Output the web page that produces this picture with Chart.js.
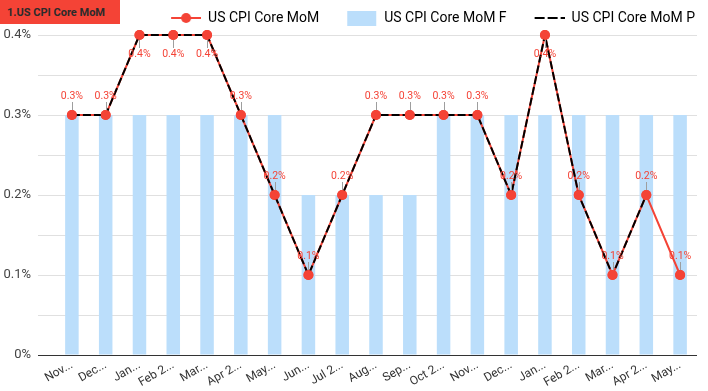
<!DOCTYPE html>
<html>
<head>
<meta charset="utf-8">
<script src="https://cdn.jsdelivr.net/npm/chart.js@4.4.1/dist/chart.umd.min.js"></script>
<style>
  html, body { margin: 0; padding: 0; background: #fff; }
  #wrap { position: relative; width: 708px; height: 391px; }
  #title {
    position: absolute; left: 0; top: 0; width: 120px; height: 24px;
    background: #f44336; color: #2b2b2b; box-sizing: border-box;
    padding-left: 7px; font: bold 11px Roboto, sans-serif; line-height: 25px;
  }
</style>
</head>
<body>
<div id="wrap">
  <canvas id="cpiChart" width="708" height="391"></canvas>
  <div id="title">1.US CPI Core MoM</div>
</div>
<script>
// data (values in %)
var months = ['Nov 2022', 'Dec 2022', 'Jan 2023', 'Feb 2023', 'Mar 2023', 'Apr 2023', 'May 2023', 'Jun 2023', 'Jul 2023', 'Aug 2023',
    'Sep 2023', 'Oct 2023', 'Nov 2023', 'Dec 2023', 'Jan 2024', 'Feb 2024', 'Mar 2024', 'Apr 2024', 'May 2024'];
var tickLabels = ['Nov...', 'Dec...', 'Jan...', 'Feb 2...', 'Mar...', 'Apr 2...', 'May...', 'Jun...', 'Jul 2...', 'Aug...',
    'Sep...', 'Oct 2...', 'Nov...', 'Dec...', 'Jan...', 'Feb 2...', 'Mar...', 'Apr 2...', 'May...'];
var coreMoM = [0.3, 0.3, 0.4, 0.4, 0.4, 0.3, 0.2, 0.1, 0.2, 0.3, 0.3, 0.3, 0.3, 0.2, 0.4, 0.2, 0.1, 0.2, 0.1];
var coreMoMF = [0.3, 0.3, 0.3, 0.3, 0.3, 0.3, 0.3, 0.2, 0.2, 0.2, 0.2, 0.3, 0.3, 0.3, 0.3, 0.3, 0.3, 0.3, 0.3];
var coreMoMP = [0.3, 0.3, 0.4, 0.4, 0.4, 0.3, 0.2, 0.1, 0.2, 0.3, 0.3, 0.3, 0.3, 0.2, 0.4, 0.2, 0.1, 0.2, null];

var red = '#f44336';
var blue = '#bbdefb';

Chart.defaults.font.family = 'Roboto';

// legend icons as small canvases (line with dot, box, dashed line)
var makeIcon = function (draw) {
    var c = document.createElement('canvas');
    c.width = 48;
    c.height = 16;
    draw(c.getContext('2d'));
    return c;
}
var legendIcons = [
    makeIcon(function (g) {
        g.strokeStyle = red; g.lineWidth = 2;
        g.beginPath(); g.moveTo(18, 8); g.lineTo(48, 8); g.stroke();
        g.fillStyle = red;
        g.beginPath(); g.arc(33, 8, 5, 0, Math.PI * 2); g.fill();
    }),
    makeIcon(function (g) {
        g.fillStyle = blue;
        g.fillRect(18, 1, 29, 15);
    }),
    makeIcon(function (g) {
        g.strokeStyle = '#000'; g.lineWidth = 2;
        g.setLineDash([10, 3]);
        g.beginPath(); g.moveTo(18, 8); g.lineTo(48, 8); g.stroke();
    })
];

// value labels with little leader lines, and red dots kept above the dashed line
var pointLabels = {
    id: 'pointLabels',
    afterLayout: function (chart) {
        chart.legend.right = chart.width - 3;
    },
    afterDatasetsDraw: function (chart) {
        var ctx = chart.ctx;
        var meta = chart.getDatasetMeta(0);
        var top = chart.chartArea.top;
        ctx.save();
        ctx.strokeStyle = '#9e9e9e';
        ctx.lineWidth = 1;
        meta.data.forEach(function (pt) {
            var dir = (pt.y - top < 20) ? 1 : -1;
            var x = Math.round(pt.x) + 0.5;
            ctx.beginPath();
            ctx.moveTo(x, pt.y + dir * 3);
            ctx.lineTo(x, pt.y + dir * 13);
            ctx.stroke();
        });
        meta.data.forEach(function (pt) { pt.draw(ctx, chart.chartArea); });
        ctx.font = '10.5px Roboto';
        ctx.fillStyle = red;
        ctx.textAlign = 'center';
        ctx.textBaseline = 'middle';
        meta.data.forEach(function (pt, i) {
            var dir = (pt.y - top < 20) ? 1 : -1;
            ctx.fillText(coreMoM[i].toFixed(1) + '%', pt.x, pt.y + dir * 19);
        });
        ctx.restore();
    }
};

var cpiConfig = {
    type: 'bar',
    data: {
        labels: months,
        datasets: [{
            type: 'line',
            label: 'US CPI Core MoM',
            data: coreMoM,
            borderColor: red,
            backgroundColor: red,
            borderWidth: 2,
            pointRadius: 5,
            pointBorderWidth: 0,
            pointBackgroundColor: red,
            tension: 0,
            clip: false,
            order: 2,
        }, {
            type: 'bar',
            label: 'US CPI Core MoM F',
            data: coreMoMF,
            backgroundColor: blue,
            barPercentage: 0.4,
            categoryPercentage: 1,
            order: 3,
        }, {
            type: 'line',
            label: 'US CPI Core MoM P',
            data: coreMoMP,
            borderColor: '#000',
            borderWidth: 2,
            borderDash: [8, 3],
            pointRadius: 0,
            tension: 0,
            clip: false,
            order: 1,
        }],
    },
    options: {
        responsive: false,
        animation: false,
        events: [],
        layout: {
            padding: { top: 1, right: 11, bottom: 0, left: 0 },
        },
        plugins: {
            tooltip: { enabled: false },
            legend: {
                align: 'end',
                labels: {
                    usePointStyle: true,
                    pointStyleWidth: 48,
                    padding: 10,
                    color: '#333',
                    font: { size: 14 },
                    generateLabels: function (chart) {
                        return chart.data.datasets.map(function (ds, i) {
                            return {
                                text: ds.label,
                                pointStyle: legendIcons[i],
                                datasetIndex: i,
                                fillStyle: 'transparent',
                                strokeStyle: 'transparent',
                                lineWidth: 0,
                                hidden: false,
                            };
                        });
                    },
                },
            },
        },
        scales: {
            x: {
                grid: { display: false, drawTicks: false },
                border: { display: false },
                ticks: {
                    autoSkip: false,
                    minRotation: 30,
                    maxRotation: 30,
                    padding: 3,
                    color: '#333',
                    font: { size: 12 },
                    callback: function (value, index) {
                        return tickLabels[index];
                    },
                },
                afterFit: function (scale) {
                    scale.height = 36;
                },
            },
            y: {
                min: 0,
                max: 0.4,
                border: { display: false },
                grid: {
                    tickLength: 17,
                    color: function (c) {
                        return c.tick && c.tick.value === 0 ? '#333' : '#e0e0e0';
                    },
                },
                ticks: {
                    stepSize: 0.05,
                    padding: 7,
                    color: '#444',
                    font: { size: 13 },
                    callback: function (value) {
                        var tenths = Math.round(value * 100);
                        if (tenths % 10 !== 0) return '';
                        return (tenths / 100) + '%';
                    },
                },
                afterFit: function (scale) {
                    scale.width = 55;
                },
            },
        },
    },
    plugins: [pointLabels],
};

window.cpiChart = new Chart(document.getElementById('cpiChart'), cpiConfig);
</script>
</body>
</html>
